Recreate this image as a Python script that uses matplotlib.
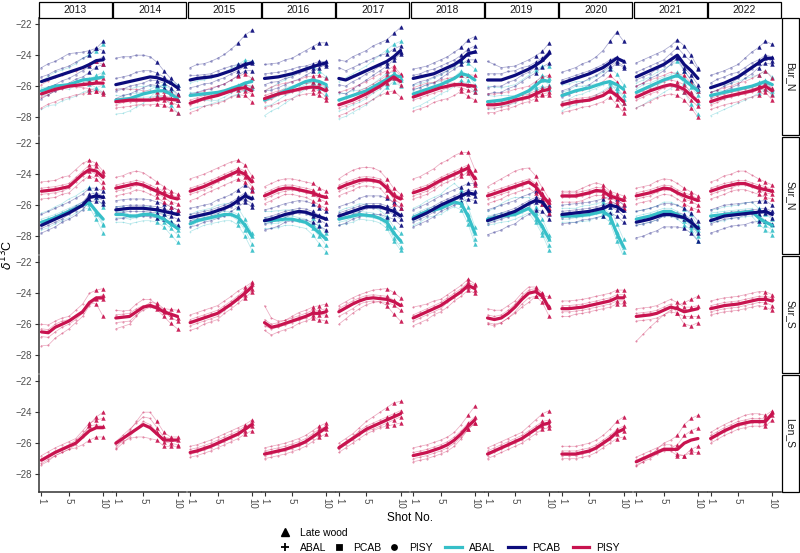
import numpy as np
import matplotlib
matplotlib.use('Agg')
import matplotlib.pyplot as plt
from matplotlib.lines import Line2D
from matplotlib.patches import Rectangle

plt.rcParams['font.family'] = ['Liberation Sans', 'DejaVu Sans']

years = [2013, 2014, 2015, 2016, 2017, 2018, 2019, 2020, 2021, 2022]
sites = ['Bur_N', 'Sur_N', 'Sur_S', 'Len_S']
shots = np.arange(1, 11)
colors = {'ABAL': '#36BFC8', 'PCAB': '#0C0C7C', 'PISY': '#C8134F'}
markers = {'ABAL': '+', 'PCAB': 's', 'PISY': 'o'}

# ---- mean (smoothed) d13C per shot, one list per year ----
bur_n_abal_mean = [
    [-26.3, -26.15, -26.0, -25.95, -25.9, -25.75, -25.6, -25.55, -25.5, -25.4],
    [-26.9, -26.85, -26.8, -26.65, -26.5, -26.4, -26.3, -26.3, -26.5, -26.8],
    [-26.6, -26.55, -26.5, -26.45, -26.4, -26.3, -26.15, -26.0, -25.8, -25.7],
    [-26.9, -26.7, -26.5, -26.3, -26.1, -25.9, -25.7, -25.6, -25.7, -25.9],
    [-26.9, -26.75, -26.6, -26.45, -26.3, -26.05, -25.8, -25.55, -25.3, -25.4],
    [-26.5, -26.35, -26.2, -26.05, -25.9, -25.7, -25.5, -25.2, -25.3, -25.6],
    [-27.0, -26.95, -26.9, -26.8, -26.7, -26.5, -26.3, -25.95, -25.6, -25.7],
    [-26.6, -26.45, -26.3, -26.2, -26.1, -25.95, -25.8, -25.7, -25.9, -26.2],
    [-26.4, -26.2, -26.0, -25.8, -25.6, -25.45, -25.3, -25.6, -25.95, -26.3],
    [-26.6, -26.5, -26.4, -26.3, -26.2, -26.1, -26.0, -25.85, -25.7, -25.9],
]
bur_n_pcab_mean = [
    [-25.7, -25.55, -25.4, -25.25, -25.1, -24.95, -24.8, -24.6, -24.35, -24.3],
    [-25.9, -25.8, -25.7, -25.6, -25.5, -25.4, -25.45, -25.6, -25.8, -26.1],
    [-25.6, -25.5, -25.45, -25.4, -25.3, -25.15, -25.0, -24.8, -24.6, -24.5],
    [-25.5, -25.45, -25.4, -25.3, -25.2, -25.05, -24.9, -24.75, -24.6, -24.5],
    [-25.5, -25.6, -25.4, -25.2, -25.0, -24.8, -24.6, -24.4, -24.1, -23.7],
    [-25.5, -25.4, -25.3, -25.2, -25.0, -24.8, -24.6, -24.3, -23.9, -23.8],
    [-25.6, -25.6, -25.6, -25.45, -25.3, -25.1, -24.9, -24.65, -24.35, -23.9],
    [-25.8, -25.65, -25.5, -25.35, -25.2, -25.0, -24.8, -24.5, -24.2, -24.4],
    [-25.4, -25.2, -25.0, -24.8, -24.6, -24.3, -24.0, -24.6, -25.0, -25.5],
    [-26.1, -25.95, -25.8, -25.6, -25.4, -25.1, -24.8, -24.5, -24.2, -24.2],
]
bur_n_pisy_mean = [
    [-26.5, -26.35, -26.2, -26.1, -26.0, -25.95, -25.9, -25.85, -25.8, -25.8],
    [-27.0, -26.95, -26.9, -26.9, -26.9, -26.9, -26.85, -26.8, -26.85, -26.9],
    [-27.1, -26.95, -26.8, -26.7, -26.6, -26.45, -26.3, -26.15, -26.1, -26.3],
    [-26.8, -26.65, -26.5, -26.4, -26.3, -26.2, -26.1, -26.05, -26.1, -26.3],
    [-27.2, -27.05, -26.9, -26.7, -26.5, -26.25, -26.0, -25.7, -25.4, -25.7],
    [-26.7, -26.55, -26.4, -26.25, -26.1, -26.0, -25.9, -25.9, -25.95, -26.0],
    [-27.2, -27.2, -27.15, -27.05, -26.9, -26.8, -26.7, -26.5, -26.3, -26.2],
    [-27.2, -27.1, -27.0, -26.95, -26.9, -26.75, -26.6, -26.3, -26.6, -27.0],
    [-26.7, -26.5, -26.3, -26.15, -26.0, -25.9, -26.0, -26.2, -26.6, -27.0],
    [-27.0, -26.85, -26.7, -26.6, -26.5, -26.4, -26.3, -26.15, -26.0, -26.3],
]
sur_n_abal_mean = [
    [-27.1, -26.95, -26.8, -26.6, -26.4, -26.2, -26.0, -25.85, -26.4, -26.9],
    [-26.6, -26.6, -26.7, -26.7, -26.6, -26.6, -26.7, -26.9, -27.2, -27.5],
    [-27.2, -27.0, -26.9, -26.8, -26.7, -26.6, -26.6, -26.8, -27.3, -28.0],
    [-27.0, -27.0, -26.95, -26.9, -26.9, -27.0, -27.1, -27.4, -27.8, -28.2],
    [-26.9, -26.8, -26.7, -26.6, -26.65, -26.7, -26.85, -27.1, -27.8, -28.3],
    [-26.8, -26.6, -26.4, -26.3, -26.2, -26.0, -25.8, -25.9, -26.7, -27.8],
    [-26.9, -26.8, -26.7, -26.65, -26.6, -26.4, -26.2, -26.7, -27.4, -28.2],
    [-26.7, -26.7, -26.7, -26.65, -26.6, -26.5, -26.4, -26.7, -27.8, -28.7],
    [-26.9, -26.8, -26.7, -26.55, -26.4, -26.4, -26.6, -26.85, -27.1, -27.6],
    [-26.7, -26.65, -26.6, -26.55, -26.5, -26.45, -26.4, -26.8, -27.1, -27.3],
]
sur_n_pcab_mean = [
    [-27.3, -27.1, -26.9, -26.7, -26.5, -26.25, -26.0, -25.5, -25.4, -25.5],
    [-26.3, -26.25, -26.2, -26.2, -26.2, -26.25, -26.3, -26.4, -26.5, -26.6],
    [-26.8, -26.7, -26.6, -26.5, -26.35, -26.2, -26.0, -25.7, -25.4, -25.6],
    [-27.0, -26.9, -26.75, -26.6, -26.5, -26.4, -26.45, -26.6, -26.75, -26.9],
    [-26.7, -26.55, -26.4, -26.25, -26.1, -26.1, -26.1, -26.25, -26.4, -26.7],
    [-26.9, -26.7, -26.5, -26.25, -26.0, -25.8, -25.6, -25.4, -25.2, -25.3],
    [-27.0, -26.85, -26.7, -26.55, -26.4, -26.15, -25.9, -25.7, -25.8, -26.4],
    [-26.6, -26.55, -26.5, -26.45, -26.4, -26.3, -26.2, -26.0, -26.1, -26.4],
    [-27.1, -27.0, -26.9, -26.75, -26.6, -26.6, -26.7, -26.8, -27.1, -27.5],
    [-27.0, -26.85, -26.7, -26.65, -26.6, -26.55, -26.5, -26.45, -26.4, -26.6],
]
sur_n_pisy_mean = [
    [-25.1, -25.05, -25.0, -24.9, -24.8, -24.4, -24.0, -23.7, -23.8, -24.2],
    [-24.9, -24.8, -24.7, -24.6, -24.7, -24.9, -25.1, -25.3, -25.5, -25.6],
    [-25.1, -24.95, -24.8, -24.6, -24.4, -24.2, -24.0, -23.8, -24.0, -24.5],
    [-25.4, -25.2, -25.0, -24.9, -24.9, -25.0, -25.1, -25.2, -25.4, -25.5],
    [-24.9, -24.7, -24.55, -24.4, -24.35, -24.4, -24.5, -24.9, -25.4, -25.6],
    [-25.2, -25.05, -24.9, -24.65, -24.4, -24.2, -24.0, -23.8, -23.6, -24.3],
    [-25.4, -25.25, -25.1, -24.95, -24.8, -24.65, -24.5, -24.8, -25.4, -25.9],
    [-25.4, -25.4, -25.4, -25.3, -25.2, -25.05, -25.1, -25.4, -25.55, -25.7],
    [-25.4, -25.3, -25.2, -25.05, -24.9, -24.95, -25.2, -25.4, -25.55, -25.7],
    [-25.1, -24.95, -24.8, -24.7, -24.6, -24.6, -24.75, -24.9, -25.0, -25.1],
]
sur_s_pisy_mean = [
    [-26.5, -26.55, -26.2, -26.0, -25.8, -25.5, -25.2, -24.6, -24.3, -24.3],
    [-25.6, -25.55, -25.5, -25.2, -24.9, -24.8, -24.95, -25.2, -25.35, -25.5],
    [-25.9, -25.75, -25.6, -25.45, -25.3, -25.0, -24.7, -24.35, -24.0, -23.6],
    [-25.9, -26.2, -26.1, -25.95, -25.8, -25.65, -25.5, -25.3, -25.3, -25.2],
    [-25.2, -24.95, -24.7, -24.5, -24.35, -24.3, -24.35, -24.4, -24.55, -24.8],
    [-25.6, -25.4, -25.2, -25.0, -24.8, -24.5, -24.2, -23.9, -23.5, -23.7],
    [-25.6, -25.7, -25.6, -25.3, -24.9, -24.4, -24.0, -23.9, -24.2, -25.0],
    [-25.0, -25.0, -24.95, -24.9, -24.8, -24.7, -24.6, -24.5, -24.3, -24.3],
    [-25.5, -25.45, -25.4, -25.3, -25.1, -24.9, -25.0, -25.2, -25.1, -25.0],
    [-25.0, -24.9, -24.8, -24.75, -24.7, -24.6, -24.5, -24.4, -24.4, -24.5],
]
len_s_pisy_mean = [
    [-27.1, -26.85, -26.6, -26.4, -26.2, -26.0, -25.6, -25.2, -25.0, -25.0],
    [-26.0, -25.7, -25.4, -25.1, -24.8, -25.0, -25.4, -25.8, -25.8, -25.8],
    [-26.6, -26.5, -26.35, -26.2, -26.0, -25.8, -25.6, -25.4, -25.1, -24.8],
    [-26.7, -26.6, -26.5, -26.4, -26.25, -26.1, -25.9, -25.6, -25.3, -25.0],
    [-26.3, -26.0, -25.7, -25.4, -25.1, -24.9, -24.7, -24.5, -24.3, -24.1],
    [-26.8, -26.7, -26.6, -26.45, -26.3, -26.1, -25.8, -25.4, -24.9, -24.5],
    [-26.7, -26.5, -26.3, -26.1, -25.9, -25.7, -25.4, -25.1, -24.8, -24.7],
    [-26.7, -26.7, -26.7, -26.6, -26.5, -26.3, -26.0, -25.7, -25.3, -25.1],
    [-27.2, -27.0, -26.8, -26.6, -26.4, -26.4, -26.4, -26.0, -25.8, -25.7],
    [-25.7, -25.45, -25.2, -25.0, -24.8, -24.7, -24.6, -24.6, -24.6, -24.1],
]

# ---- single trees: deviation from the mean line, in tenths of a permil ----
bur_n_abal_trees = [
    [[-12, -11, -12, -10, -9, -9, -8, -7, -6, -5], [6, 8, 9, 10, 11, 12, 14, 16, 18, 21], [-3, -4, -3, -2, -3, -2, -1, 0, 2, 3], [2, 1, 1, 0, -1, -2, -2, -3, -6, -10]],
    [[-9, -9, -8, -7, -6, -3, 0, 5, 8, 9], [3, 2, 3, 2, 1, 2, 3, 4, 3, 2], [-1, 0, 0, -1, -2, -3, -3, -4, -7, -9], [7, 7, 6, 6, 5, 4, 3, 2, 0, -1]],
    [[8, 9, 9, 10, 11, 12, 13, 14, 15, 13], [-5, -4, -4, -5, -5, -4, -3, -2, 0, 2], [-9, -8, -8, -7, -6, -6, -5, -5, -4, -3], [2, 1, 1, 0, 0, 0, 1, 1, -1, -4]],
    [[-10, -9, -9, -8, -7, -6, -5, -4, -3, -2], [6, 6, 7, 7, 8, 8, 9, 9, 7, 5], [0, 1, 1, 2, 1, 0, -1, -2, -4, -6], [-4, -5, -4, -3, -3, -2, -2, -1, 0, 0]],
    [[12, 13, 14, 15, 16, 17, 18, 19, 20, 23], [-7, -7, -6, -6, -5, -4, -4, -3, -2, -2], [-12, -12, -11, -10, -9, -8, -7, -5, -4, -6], [4, 3, 3, 2, 2, 2, 3, 4, 2, -1]],
    [[-9, -9, -8, -7, -6, -6, -5, -4, -6, -8], [6, 5, 5, 6, 6, 7, 7, 8, 8, 7], [-3, -2, -2, -1, -1, 0, 1, 2, 0, -3], [2, 3, 3, 3, 2, 1, 0, -1, -3, -6]],
    [[10, 9, 8, 8, 8, 9, 10, 10, 9, 10], [-5, -5, -4, -4, -4, -3, -2, -1, 0, -2], [-2, -1, -1, -1, 0, 0, 1, 2, 3, 2], [4, 3, 3, 2, 1, 0, -1, -2, -4, -5]],
    [[-10, -9, -9, -8, -7, -6, -5, -3, -2, -4], [7, 6, 6, 5, 5, 6, 7, 9, 7, 3], [-4, -4, -3, -3, -2, -2, -1, 0, -2, -6], [2, 2, 3, 2, 2, 1, 0, -1, -4, -9]],
    [[-10, -10, -9, -9, -8, -7, -6, -8, -12, -15], [6, 6, 6, 7, 7, 8, 9, 6, 3, 0], [-3, -3, -2, -2, -1, -1, 0, -2, -5, -8], [2, 3, 2, 2, 2, 2, 2, 1, -1, -3]],
    [[-13, -12, -11, -10, -9, -8, -7, -6, -5, -6], [6, 6, 5, 5, 5, 6, 6, 6, 7, 5], [-5, -4, -4, -3, -3, -2, -2, -2, -1, -3], [2, 2, 1, 1, 1, 0, 0, 1, 1, -4]],
]
bur_n_pcab_trees = [
    [[9, 10, 10, 11, 12, 11, 10, 9, 8, 6], [-6, -5, -5, -4, -4, -3, -2, -1, 0, 2], [3, 3, 4, 4, 4, 5, 6, 6, 8, 12], [-11, -10, -9, -8, -7, -6, -6, -5, -4, -3]],
    [[17, 17, 16, 16, 15, 13, 10, 6, 3, 2], [4, 4, 4, 5, 5, 4, 3, 2, 1, 0], [-4, -4, -3, -3, -3, -2, -2, -2, -3, -4], [-9, -8, -8, -7, -6, -5, -5, -5, -6, -8]],
    [[8, 9, 9, 10, 11, 12, 14, 16, 19, 21], [-5, -5, -4, -4, -3, -3, -2, -2, -1, 0], [3, 2, 2, 2, 3, 3, 3, 2, 1, 1], [-9, -9, -8, -8, -7, -7, -6, -5, -4, -5]],
    [[9, 9, 9, 10, 10, 11, 12, 13, 14, 13], [-8, -8, -7, -6, -5, -5, -4, -3, -2, -1], [3, 3, 3, 3, 3, 3, 2, 2, 2, 1], [-4, -3, -3, -2, -2, -1, -1, -1, 0, -2]],
    [[12, 12, 13, 13, 13, 14, 14, 14, 15, 15], [7, 6, 6, 6, 6, 6, 6, 5, 5, 3], [-4, -4, -3, -3, -2, -2, -1, -1, 0, -1], [-9, -9, -8, -7, -6, -5, -4, -3, -2, -2]],
    [[6, 6, 6, 7, 7, 7, 8, 8, 9, 10], [-4, -3, -3, -2, -2, -2, -1, -1, 0, 1], [2, 2, 3, 3, 3, 3, 3, 3, 3, 4], [-7, -7, -6, -6, -5, -4, -3, -3, -4, -5]],
    [[12, 10, 8, 7, 6, 6, 6, 6, 6, 7], [-5, -4, -4, -3, -3, -2, -2, -1, 1, 2], [4, 4, 4, 4, 3, 3, 2, 2, 2, 1], [-9, -8, -8, -7, -7, -6, -5, -5, -4, -6]],
    [[7, 7, 7, 8, 8, 9, 11, 14, 17, 13], [-5, -5, -4, -4, -3, -3, -2, -2, -2, -3], [2, 2, 2, 2, 2, 2, 2, 2, 1, 0], [-9, -9, -8, -8, -7, -6, -5, -4, -3, -4]],
    [[9, 9, 9, 9, 9, 9, 10, 12, 10, 7], [-6, -6, -5, -5, -4, -3, -2, -4, -6, -7], [3, 3, 3, 3, 3, 4, 5, 6, 6, 6], [-2, -2, -2, -1, -1, -1, -1, -2, -3, -4]],
    [[8, 8, 8, 8, 8, 9, 10, 10, 11, 9], [-6, -6, -5, -5, -5, -4, -4, -3, -3, -4], [3, 4, 4, 4, 3, 3, 3, 2, 2, 1], [-3, -3, -2, -2, -1, -1, -1, 0, 0, -2]],
]
bur_n_pisy_trees = [
    [[6, 7, 8, 8, 9, 9, 11, 13, 14, 12], [-9, -8, -8, -7, -7, -6, -6, -5, -5, -6], [-2, -2, -1, -1, 0, 0, 1, 2, 2, 3], [2, 1, 1, 0, 0, -1, -2, -3, -5, -7]],
    [[8, 8, 7, 7, 6, 6, 5, 5, 4, 3], [-4, -4, -4, -3, -3, -3, -3, -4, -6, -8], [2, 2, 1, 1, 1, 1, 2, 2, 1, 0], [-2, -1, -1, -1, 0, 0, 0, -1, -2, -3]],
    [[5, 5, 5, 6, 6, 6, 7, 8, 9, 8], [-6, -6, -5, -5, -5, -5, -4, -4, -5, -7], [2, 2, 2, 1, 1, 1, 1, 1, 2, 3], [-1, -1, -1, -1, 0, 0, -1, -1, -2, -2]],
    [[5, 6, 6, 6, 6, 6, 7, 7, 8, 8], [-6, -6, -6, -5, -5, -4, -4, -4, -5, -6], [2, 2, 2, 2, 2, 3, 3, 3, 3, 2], [-2, -2, -1, -1, -1, -1, -1, -1, -2, -4]],
    [[8, 8, 8, 8, 8, 8, 8, 7, 7, 5], [-7, -7, -6, -6, -6, -6, -6, -7, -9, -10], [3, 3, 3, 4, 4, 4, 4, 4, 5, 4], [-2, -2, -2, -2, -2, -1, -1, -1, -1, -2]],
    [[6, 6, 6, 5, 5, 5, 5, 6, 7, 7], [-9, -9, -9, -8, -8, -8, -7, -4, -7, -9], [2, 2, 2, 2, 2, 2, 1, 1, 0, -1], [-2, -2, -2, -2, -2, -1, -1, -2, -3, -4]],
    [[7, 7, 7, 7, 7, 7, 7, 8, 9, 9], [-5, -5, -4, -4, -4, -3, -3, -3, -3, -4], [2, 2, 2, 2, 2, 2, 2, 2, 2, 2], [-2, -2, -2, -2, -1, -1, -1, -1, -2, -2]],
    [[7, 7, 7, 7, 8, 8, 9, 10, 9, 7], [-5, -5, -5, -4, -4, -4, -4, -4, -6, -7], [2, 2, 2, 2, 2, 2, 2, 2, 1, -1], [-1, -1, -1, 0, 0, 0, 0, 0, -2, -4]],
    [[7, 7, 7, 7, 7, 8, 8, 9, 8, 7], [-7, -7, -7, -6, -6, -6, -6, -7, -8, -10], [2, 2, 2, 3, 3, 3, 3, 3, 2, 1], [-2, -2, -2, -2, -1, -1, -1, -2, -3, -3]],
    [[6, 6, 6, 6, 7, 7, 8, 9, 10, 8], [-5, -5, -5, -5, -5, -4, -4, -4, -4, -6], [2, 2, 2, 2, 2, 2, 2, 2, 3, 2], [-2, -2, -1, -1, -1, -1, -1, -1, -2, -3]],
]
sur_n_abal_trees = [
    [[6, 6, 7, 7, 8, 8, 9, 10, 9, 8], [-5, -5, -4, -4, -4, -3, -3, -3, -5, -9], [2, 2, 2, 2, 2, 2, 2, 1, 0, -3], [-2, -1, -1, -1, 0, 0, 0, -1, -2, -4]],
    [[5, 5, 5, 5, 5, 5, 4, 3, 2, 1], [-5, -5, -5, -4, -4, -4, -4, -5, -7, -9], [2, 2, 1, 1, 1, 1, 1, 1, 0, -1], [-2, -2, -2, -1, -1, -1, -1, -2, -3, -4]],
    [[6, 6, 6, 6, 7, 7, 7, 6, 4, 2], [-5, -5, -4, -4, -4, -4, -4, -5, -7, -9], [2, 2, 2, 2, 2, 2, 2, 2, 1, 0], [-2, -1, -1, -1, -1, -1, -1, -2, -3, -5]],
    [[6, 6, 6, 6, 6, 6, 6, 6, 5, 4], [-5, -5, -5, -4, -4, -4, -4, -5, -7, -8], [2, 2, 2, 2, 2, 2, 2, 2, 2, 1], [-2, -2, -2, -1, -1, -1, -1, -1, -2, -4]],
    [[5, 6, 6, 7, 7, 6, 5, 4, 4, 5], [-4, -4, -4, -3, -3, -3, -3, -4, -5, -6], [2, 2, 2, 2, 2, 2, 2, 2, 1, 0], [-2, -2, -1, -1, -1, -1, -1, -2, -3, -4]],
    [[6, 6, 7, 8, 9, 11, 12, 9, 6, 4], [-5, -5, -4, -4, -4, -3, -3, -4, -5, -7], [2, 2, 2, 2, 2, 2, 2, 2, 1, 0], [-2, -2, -1, -1, -1, -1, -1, -1, -2, -4]],
    [[5, 6, 8, 10, 11, 9, 7, 6, 5, 3], [-4, -4, -4, -4, -3, -3, -3, -4, -5, -7], [2, 2, 2, 2, 2, 2, 2, 2, 1, 0], [-2, -2, -1, -1, -1, -1, -1, -2, -3, -4]],
    [[5, 5, 5, 6, 6, 6, 6, 6, 6, 5], [-4, -4, -4, -4, -4, -3, -3, -4, -5, -6], [2, 2, 2, 2, 2, 2, 2, 2, 1, 0], [-2, -2, -1, -1, -1, -1, -1, -1, -2, -3]],
    [[5, 5, 5, 5, 6, 6, 6, 6, 5, 3], [-4, -4, -4, -4, -3, -3, -3, -4, -5, -7], [2, 2, 2, 2, 2, 2, 2, 2, 1, 0], [-2, -2, -1, -1, -1, -1, -1, -2, -3, -4]],
    [[4, 4, 5, 5, 5, 6, 6, 6, 5, 4], [-4, -4, -4, -3, -3, -3, -3, -4, -5, -6], [2, 2, 2, 2, 2, 2, 2, 2, 1, 0], [-2, -2, -1, -1, -1, -1, -1, -1, -2, -3]],
]
sur_n_pcab_trees = [
    [[7, 7, 7, 7, 7, 7, 7, 6, 5, 4], [-5, -5, -5, -4, -4, -4, -3, -3, -3, -4], [2, 2, 2, 2, 2, 2, 2, 2, 2, 1], [-2, -2, -2, -2, -1, -1, -1, -1, -1, -2]],
    [[6, 6, 6, 6, 6, 6, 5, 5, 4, 3], [-6, -6, -5, -5, -5, -5, -5, -5, -6, -7], [2, 2, 2, 2, 2, 2, 2, 2, 1, 1], [-2, -2, -2, -2, -2, -2, -2, -2, -2, -3]],
    [[6, 6, 6, 6, 7, 7, 7, 7, 7, 6], [-6, -6, -5, -5, -5, -5, -4, -4, -4, -5], [2, 2, 2, 2, 2, 2, 2, 2, 2, 1], [-2, -2, -2, -2, -2, -1, -1, -1, -2, -3]],
    [[7, 7, 7, 7, 7, 7, 7, 7, 6, 5], [-6, -6, -6, -5, -5, -5, -5, -5, -6, -7], [2, 2, 2, 2, 2, 2, 2, 2, 1, 1], [-2, -2, -2, -2, -1, -1, -1, -1, -2, -3]],
    [[6, 6, 6, 7, 7, 7, 7, 7, 6, 5], [-6, -6, -5, -5, -5, -5, -5, -5, -5, -6], [2, 2, 2, 2, 2, 2, 2, 2, 2, 1], [-2, -2, -2, -2, -1, -1, -1, -1, -2, -2]],
    [[6, 6, 6, 6, 6, 6, 6, 6, 6, 7], [-5, -5, -5, -5, -4, -4, -4, -4, -4, -4], [2, 2, 2, 2, 2, 2, 2, 2, 2, 2], [-2, -2, -2, -2, -2, -2, -1, -1, -1, -1]],
    [[7, 7, 7, 7, 7, 7, 6, 6, 5, 4], [-9, -9, -9, -8, -8, -7, -7, -6, -6, -5], [2, 2, 2, 2, 2, 2, 2, 2, 2, 1], [-2, -2, -2, -2, -1, -1, -1, -1, -1, -2]],
    [[6, 6, 6, 6, 6, 6, 6, 6, 5, 4], [-6, -6, -6, -5, -5, -5, -5, -5, -6, -7], [2, 2, 2, 2, 2, 2, 2, 2, 2, 1], [-2, -2, -2, -2, -2, -1, -1, -1, -2, -3]],
    [[7, 7, 7, 7, 7, 7, 7, 6, 6, 5], [-10, -10, -9, -9, -8, -8, -7, -7, -7, -8], [2, 2, 2, 2, 2, 2, 2, 2, 2, 1], [-2, -2, -2, -2, -1, -1, -1, -1, -2, -3]],
    [[7, 7, 7, 7, 7, 7, 7, 7, 7, 6], [-8, -8, -8, -7, -7, -7, -6, -6, -6, -6], [2, 2, 2, 2, 2, 2, 2, 2, 2, 2], [-2, -2, -2, -2, -2, -1, -1, -1, -1, -2]],
]
sur_n_pisy_trees = [
    [[6, 6, 6, 7, 7, 7, 7, 6, 5, 4], [-5, -5, -5, -4, -4, -4, -4, -4, -5, -6], [2, 2, 2, 2, 2, 2, 2, 3, 3, 2], [-2, -2, -2, -2, -1, -1, -1, -1, -2, -3]],
    [[7, 7, 8, 8, 8, 7, 6, 5, 4, 3], [-5, -5, -5, -4, -4, -4, -4, -5, -6, -7], [2, 2, 2, 2, 2, 2, 2, 2, 2, 1], [-2, -2, -2, -1, -1, -1, -1, -2, -3, -3]],
    [[8, 8, 8, 8, 8, 8, 8, 7, 6, 4], [-6, -6, -5, -5, -5, -5, -5, -5, -5, -6], [2, 2, 2, 2, 2, 2, 2, 2, 2, 1], [-2, -2, -2, -2, -1, -1, -1, -1, -2, -3]],
    [[6, 6, 6, 6, 6, 6, 6, 6, 5, 4], [-5, -5, -5, -4, -4, -4, -4, -5, -6, -7], [2, 2, 2, 2, 2, 2, 2, 2, 1, 1], [-2, -2, -2, -2, -1, -1, -1, -1, -2, -3]],
    [[6, 7, 8, 8, 8, 8, 7, 6, 5, 3], [-5, -5, -5, -4, -4, -4, -4, -5, -5, -6], [2, 2, 2, 2, 2, 2, 2, 2, 2, 1], [-2, -2, -2, -2, -1, -1, -1, -1, -2, -3]],
    [[9, 9, 10, 10, 11, 11, 12, 12, 10, 6], [-4, -4, -4, -4, -3, -3, -3, -3, -3, -4], [2, 2, 2, 2, 2, 2, 2, 2, 2, 1], [-2, -2, -2, -2, -1, -1, -1, -1, -1, -2]],
    [[6, 7, 8, 9, 10, 10, 9, 7, 5, 3], [-5, -5, -5, -4, -4, -4, -4, -4, -5, -6], [2, 2, 2, 2, 2, 2, 2, 2, 2, 1], [-2, -2, -2, -2, -1, -1, -1, -1, -2, -3]],
    [[3, 3, 3, 4, 5, 5, 4, 3, 3, 3], [-4, -4, -4, -4, -3, -3, -3, -3, -4, -5], [2, 2, 2, 2, 2, 2, 2, 2, 1, 1], [-1, -1, -1, -1, -1, -1, -1, -1, -2, -2]],
    [[5, 5, 5, 6, 6, 6, 6, 5, 4, 3], [-5, -5, -5, -4, -4, -4, -4, -5, -6, -6], [2, 2, 2, 2, 2, 2, 2, 2, 2, 1], [-2, -2, -2, -1, -1, -1, -1, -2, -2, -3]],
    [[6, 6, 7, 7, 8, 8, 7, 6, 5, 4], [-5, -5, -5, -4, -4, -4, -4, -4, -5, -5], [2, 2, 2, 2, 2, 2, 2, 2, 2, 1], [-2, -2, -2, -2, -1, -1, -1, -1, -2, -2]],
]
sur_s_pisy_trees = [
    [[-9, -8, -7, -6, -5, -4, -3, -2, -1, -1], [5, 5, 4, 4, 3, 4, 5, 6, 5, 6], [2, 2, 2, 2, 1, 1, 1, 0, -4, -12], [-3, -3, -3, -2, -2, -2, -1, -1, 0, 2]],
    [[-7, -6, -5, -3, 0, 2, 3, 2, 0, -1], [5, 4, 4, 5, 5, 4, 2, 0, -2, -3], [-3, -3, -3, -2, -2, -1, -1, -3, -6, -8], [2, 2, 2, 2, 1, 1, 1, 2, 3, 4]],
    [[5, 5, 5, 5, 5, 5, 5, 5, 4, 3], [-5, -5, -4, -4, -4, -3, -3, -3, -3, -3], [2, 2, 2, 2, 2, 2, 2, 2, 2, 2], [-2, -2, -2, -2, -2, -1, -1, -1, -1, -1]],
    [[11, 6, 3, 2, 3, 4, 4, 4, 5, 5], [-5, -5, -4, -4, -4, -3, -3, -3, -4, -6], [2, 2, 2, 2, 2, 2, 2, 2, 2, 2], [-2, -1, -1, -1, -1, -1, -1, -1, -1, -2]],
    [[-8, -7, -6, -5, -4, -3, -2, -4, -8, -10], [4, 4, 4, 4, 4, 5, 6, 7, 6, 5], [2, 2, 2, 2, 2, 2, 2, 2, 1, 1], [-3, -3, -3, -2, -2, -2, -2, -2, -2, -3]],
    [[7, 6, 5, 5, 4, 4, 4, 4, 4, 3], [-5, -5, -5, -4, -4, -4, -3, -3, -3, -3], [2, 2, 2, 2, 2, 2, 2, 2, 2, 2], [-2, -2, -2, -2, -2, -1, -1, -1, -1, -1]],
    [[-3, -3, -3, -3, -4, -5, -6, -3, 0, 8], [6, 6, 5, 5, 4, 4, 4, 3, 2, 1], [2, 2, 2, 2, 2, 2, 2, 2, 2, 2], [-4, -4, -3, -3, -3, -3, -3, -3, -4, -5]],
    [[5, 5, 5, 5, 5, 5, 5, 5, 5, 5], [-5, -5, -4, -4, -4, -4, -4, -4, -4, -4], [2, 2, 2, 2, 2, 2, 2, 2, 2, 2], [-2, -2, -2, -2, -2, -2, -2, -2, -2, -2]],
    [[-16, -12, -8, -5, -3, -2, 2, 6, 7, 8], [5, 5, 5, 5, 5, 5, 4, 3, 2, 2], [2, 2, 2, 2, 2, 2, -3, -8, -10, -9], [-3, -3, -3, -3, -3, -3, -3, -3, -4, -5]],
    [[5, 5, 5, 5, 5, 5, 5, 5, 5, 4], [-4, -4, -4, -4, -4, -4, -4, -4, -5, -6], [2, 2, 2, 2, 2, 2, 2, 2, 2, 2], [-2, -2, -2, -2, -2, -2, -2, -2, -2, -3]],
]
len_s_pisy_trees = [
    [[-3, -3, -2, -2, -2, -1, 0, 4, 7, 10], [3, 3, 3, 3, 3, 3, 4, 5, 5, 6], [-2, -2, -2, -2, -2, -3, -5, -6, -6, -6], [1, 1, 1, 1, 1, 2, 2, 3, 2, 1]],
    [[-3, -1, 2, 5, 8, 10, 8, 5, 2, 2], [-1, -2, -3, -5, -8, -7, -4, -4, -4, -4], [1, 2, 3, 4, 5, 6, 4, 2, 1, 0], [-4, -3, -2, 0, 2, 2, 1, -1, -2, -3]],
    [[4, 4, 4, 4, 4, 4, 4, 4, 3, 3], [-3, -3, -3, -3, -3, -3, -3, -3, -3, -4], [2, 2, 2, 2, 2, 2, 2, 2, 2, 1], [-1, -1, -1, -1, -1, -1, -1, -1, -1, -1]],
    [[4, 4, 4, 4, 4, 4, 4, 4, 4, 3], [-3, -3, -3, -3, -3, -3, -3, -3, -3, -4], [2, 2, 2, 2, 2, 2, 2, 2, 2, 1], [-1, -1, -1, -1, -1, -1, -1, -1, -1, -1]],
    [[3, 3, 3, 4, 5, 6, 7, 8, 9, 8], [-3, -3, -3, -3, -3, -3, -3, -4, -5, -6], [1, 1, 1, 2, 2, 2, 2, 2, 2, 2], [-1, -1, -1, -1, -1, -2, -2, -2, -2, -2]],
    [[5, 5, 5, 5, 5, 5, 5, 6, 7, 9], [-4, -4, -4, -4, -4, -4, -4, -3, -2, -2], [2, 2, 2, 2, 2, 2, 2, 2, 2, 2], [-2, -2, -2, -2, -2, -2, -2, -2, -2, -2]],
    [[4, 4, 4, 4, 4, 4, 5, 6, 7, 8], [-3, -3, -3, -3, -3, -3, -3, -3, -3, -3], [2, 2, 2, 2, 2, 2, 2, 2, 2, 2], [-1, -1, -1, -1, -1, -1, -1, -1, -1, -1]],
    [[5, 5, 5, 5, 5, 5, 5, 6, 7, 8], [-3, -3, -3, -3, -3, -3, -3, -3, -4, -5], [2, 2, 2, 2, 2, 2, 2, 2, 2, 2], [-1, -1, -1, -1, -1, -1, -1, -1, -1, -1]],
    [[-3, -2, 0, 2, 4, 6, 9, 12, 14, 15], [3, 3, 3, 3, 3, 3, -3, -8, -8, -9], [-2, -2, -2, -1, -1, -1, -4, -8, -6, -5], [1, 1, 1, 1, 1, 1, 3, 5, 6, 7]],
    [[4, 4, 4, 4, 4, 5, 5, 5, 4, 2], [-3, -3, -3, -3, -3, -3, -3, -3, -3, -4], [2, 2, 2, 2, 2, 2, 2, 2, 2, 1], [-1, -1, -1, -1, -1, -1, -1, -1, -1, -1]],
]

# first shot counted as late wood, per year
bur_n_lw = [8, 7, 8, 8, 8, 8, 8, 8, 7, 8]
sur_n_lw = [8, 7, 8, 8, 8, 8, 8, 7, 8, 8]
sur_s_lw = [9, 7, 9, 8, 8, 9, 8, 9, 7, 9]
len_s_lw = [8, 7, 9, 9, 8, 9, 9, 9, 7, 9]

panels = {
    'Bur_N': [('ABAL', bur_n_abal_mean, bur_n_abal_trees), ('PCAB', bur_n_pcab_mean, bur_n_pcab_trees),
              ('PISY', bur_n_pisy_mean, bur_n_pisy_trees)],
    'Sur_N': [('ABAL', sur_n_abal_mean, sur_n_abal_trees), ('PCAB', sur_n_pcab_mean, sur_n_pcab_trees),
              ('PISY', sur_n_pisy_mean, sur_n_pisy_trees)],
    'Sur_S': [('PISY', sur_s_pisy_mean, sur_s_pisy_trees)],
    'Len_S': [('PISY', len_s_pisy_mean, len_s_pisy_trees)],
}
lw_start = {'Bur_N': bur_n_lw, 'Sur_N': sur_n_lw, 'Sur_S': sur_s_lw, 'Len_S': len_s_lw}

W, H = 800, 553
fig, axes = plt.subplots(4, 10, figsize=(W / 100, H / 100), dpi=100, sharex=True, sharey=True)
fig.subplots_adjust(left=39 / W, right=781 / W, top=1 - 18 / H, bottom=1 - 492 / H,
                    wspace=0.02, hspace=0.017)

axis_col = '#333333'
for i, site in enumerate(sites):
    for j, yr in enumerate(years):
        ax = axes[i, j]
        late = shots >= lw_start[site][j]
        for sp, mean, trees in panels[site]:
            c = colors[sp]
            m = np.array(mean[j])
            for off in trees[j]:
                v = m + np.array(off) / 10.0
                ax.plot(shots, v, color=c, lw=0.55, alpha=0.35, marker=markers[sp],
                        ms=1.1, mew=0.4, zorder=2)
                ax.plot(shots[late], v[late], ls='none', marker='^', ms=3.2,
                        color=c, alpha=0.9, mew=0, zorder=3)
        for sp, mean, trees in panels[site]:
            ax.plot(shots, mean[j], color=colors[sp], lw=2.3, zorder=4,
                    solid_capstyle='round', solid_joinstyle='round')

        ax.set_xlim(0.64, 11.27)
        ax.set_ylim(-29.15, -21.6)
        for s in ['top', 'right']:
            ax.spines[s].set_visible(False)
        ax.spines['left'].set_visible(j == 0)
        ax.spines['bottom'].set_visible(i == 3)
        ax.spines['left'].set_color(axis_col)
        ax.spines['bottom'].set_color(axis_col)
        ax.spines['left'].set_linewidth(1.1)
        ax.spines['bottom'].set_linewidth(1.1)
        ax.set_yticks([-28, -26, -24, -22])
        ax.set_xticks([1, 5, 10])
        ax.tick_params(axis='y', left=(j == 0), labelleft=(j == 0), length=3,
                       color=axis_col, labelcolor='#4D4D4D', labelsize=7, pad=2)
        ax.tick_params(axis='x', bottom=(i == 3), labelbottom=(i == 3), length=3,
                       color=axis_col, labelcolor='#4D4D4D', labelsize=7, pad=1.5,
                       labelrotation=270)
        ax.set_facecolor('none')

        pos = ax.get_position()
        if i == 0:
            fig.add_artist(Rectangle((pos.x0, pos.y1), pos.width, 16 / H, transform=fig.transFigure,
                                     facecolor='white', edgecolor='black', lw=0.9))
            fig.text(pos.x0 + pos.width / 2, pos.y1 + 8 / H, str(yr), ha='center', va='center',
                     fontsize=7.5, color='#1A1A1A')
        if j == 9:
            fig.add_artist(Rectangle((pos.x1 + 1 / W, pos.y0), 17 / W, pos.height, transform=fig.transFigure,
                                     facecolor='white', edgecolor='black', lw=0.9))
            fig.text(pos.x1 + 9.5 / W, pos.y0 + pos.height / 2, site, ha='center', va='center',
                     rotation=270, fontsize=7.5, color='#1A1A1A')

fig.text(7 / W, 1 - 255 / H, r'$\delta^{13}$C', rotation=90, ha='center', va='center', fontsize=9)
fig.text(410 / W, 1 - 518 / H, 'Shot No.', ha='center', va='center', fontsize=8.5)

h_lw = [Line2D([], [], ls='none', marker='^', color='black', ms=5.5)]
leg1 = fig.legend(h_lw, ['Late wood'], loc='center left', bbox_to_anchor=(274 / W, 1 - 533 / H),
                  frameon=False, fontsize=7.5, handlelength=1.2, handletextpad=0.8, borderpad=0)
sp_size = {'ABAL': 6, 'PCAB': 3.6, 'PISY': 3.6}
h_sp = [Line2D([], [], ls='none', marker=markers[s], color='black', ms=sp_size[s], mew=1.3)
        for s in ['ABAL', 'PCAB', 'PISY']]
leg2 = fig.legend(h_sp, ['ABAL', 'PCAB', 'PISY'], loc='center left', bbox_to_anchor=(274 / W, 1 - 548 / H),
                  ncol=3, frameon=False, fontsize=7.5, handlelength=1.2, handletextpad=0.8,
                  columnspacing=0.6, borderpad=0)
h_ln = [Line2D([], [], color=colors[s], lw=2.3) for s in ['ABAL', 'PCAB', 'PISY']]
leg3 = fig.legend(h_ln, ['ABAL', 'PCAB', 'PISY'], loc='center left', bbox_to_anchor=(440 / W, 1 - 548 / H),
                  ncol=3, frameon=False, fontsize=7.5, handlelength=1.6, handletextpad=0.7,
                  columnspacing=1.2, borderpad=0)

fig.savefig('out.png', dpi=100)
